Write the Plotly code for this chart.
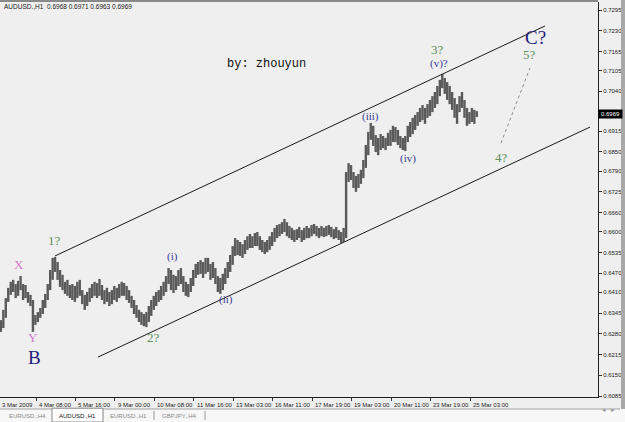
import plotly.graph_objects as go

# ---------------- data (AUDUSD, 2-hour aggregated bars) ----------------
highs = [
    0.6323, 0.6355, 0.6392, 0.6424, 0.6443, 0.6449, 0.6436, 0.6446, 0.6461, 0.6436,
    0.6433, 0.6411, 0.6402, 0.6386, 0.6339, 0.6348, 0.6361, 0.6386, 0.6405, 0.6436,
    0.6480, 0.6518, 0.6521, 0.6505, 0.6480, 0.6465, 0.6443, 0.6449, 0.6433, 0.6436,
    0.6430, 0.6443, 0.6449, 0.6417, 0.6402, 0.6411, 0.6424, 0.6436, 0.6443, 0.6439,
    0.6452, 0.6433, 0.6417, 0.6424, 0.6411, 0.6417, 0.6430, 0.6424, 0.6436, 0.6443,
    0.6439, 0.6430, 0.6417, 0.6399, 0.6386, 0.6370, 0.6355, 0.6348, 0.6342, 0.6348,
    0.6367, 0.6386, 0.6399, 0.6411, 0.6417, 0.6430, 0.6443, 0.6461, 0.6486, 0.6480,
    0.6465, 0.6461, 0.6480, 0.6486, 0.6461, 0.6443, 0.6436, 0.6455, 0.6480, 0.6499,
    0.6505, 0.6511, 0.6505, 0.6518, 0.6518, 0.6499, 0.6505, 0.6486, 0.6461, 0.6455,
    0.6468, 0.6486, 0.6505, 0.6527, 0.6555, 0.6580, 0.6574, 0.6568, 0.6561, 0.6574,
    0.6586, 0.6593, 0.6586, 0.6596, 0.6599, 0.6586, 0.6574, 0.6568, 0.6574, 0.6586,
    0.6599, 0.6612, 0.6621, 0.6624, 0.6630, 0.6640, 0.6630, 0.6618, 0.6612, 0.6605,
    0.6608, 0.6615, 0.6605, 0.6612, 0.6618, 0.6612, 0.6621, 0.6624, 0.6618, 0.6612,
    0.6618, 0.6612, 0.6618, 0.6621, 0.6615, 0.6608, 0.6615, 0.6605, 0.6599, 0.6612,
    0.6787, 0.6815, 0.6809, 0.6787, 0.6775, 0.6781, 0.6794, 0.6825, 0.6872, 0.6913,
    0.6941, 0.6932, 0.6903, 0.6894, 0.6906, 0.6900, 0.6894, 0.6910, 0.6919, 0.6932,
    0.6928, 0.6919, 0.6900, 0.6894, 0.6900, 0.6932, 0.6944, 0.6957, 0.6966, 0.6975,
    0.6988, 0.6997, 0.6988, 0.7000, 0.7013, 0.7025, 0.7038, 0.7057, 0.7076, 0.7094,
    0.7082, 0.7069, 0.7057, 0.7038, 0.7019, 0.7000, 0.7025, 0.7038, 0.7013, 0.6988,
    0.6975, 0.6988, 0.6982, 0.6978,
]
lows = [
    0.6286, 0.6298, 0.6330, 0.6380, 0.6402, 0.6411, 0.6392, 0.6399, 0.6417, 0.6386,
    0.6392, 0.6377, 0.6367, 0.6286, 0.6308, 0.6317, 0.6330, 0.6342, 0.6361, 0.6386,
    0.6417, 0.6449, 0.6474, 0.6449, 0.6427, 0.6417, 0.6405, 0.6399, 0.6392, 0.6386,
    0.6380, 0.6392, 0.6399, 0.6373, 0.6355, 0.6367, 0.6380, 0.6392, 0.6399, 0.6392,
    0.6399, 0.6386, 0.6373, 0.6380, 0.6367, 0.6373, 0.6386, 0.6380, 0.6392, 0.6399,
    0.6399, 0.6386, 0.6377, 0.6361, 0.6342, 0.6330, 0.6317, 0.6308, 0.6304, 0.6301,
    0.6317, 0.6336, 0.6355, 0.6367, 0.6380, 0.6386, 0.6399, 0.6411, 0.6436, 0.6417,
    0.6408, 0.6417, 0.6430, 0.6436, 0.6411, 0.6399, 0.6395, 0.6411, 0.6430, 0.6455,
    0.6465, 0.6468, 0.6455, 0.6468, 0.6474, 0.6449, 0.6455, 0.6436, 0.6411, 0.6405,
    0.6417, 0.6436, 0.6455, 0.6474, 0.6496, 0.6524, 0.6527, 0.6524, 0.6518, 0.6530,
    0.6543, 0.6549, 0.6549, 0.6555, 0.6555, 0.6543, 0.6536, 0.6530, 0.6536, 0.6543,
    0.6555, 0.6568, 0.6580, 0.6586, 0.6593, 0.6599, 0.6586, 0.6580, 0.6574, 0.6568,
    0.6574, 0.6580, 0.6568, 0.6574, 0.6580, 0.6580, 0.6586, 0.6593, 0.6586, 0.6580,
    0.6586, 0.6583, 0.6586, 0.6590, 0.6583, 0.6577, 0.6580, 0.6574, 0.6565, 0.6568,
    0.6580, 0.6756, 0.6762, 0.6737, 0.6725, 0.6737, 0.6750, 0.6768, 0.6800, 0.6840,
    0.6888, 0.6869, 0.6850, 0.6840, 0.6856, 0.6862, 0.6856, 0.6869, 0.6869, 0.6881,
    0.6881, 0.6872, 0.6862, 0.6856, 0.6853, 0.6881, 0.6897, 0.6906, 0.6919, 0.6932,
    0.6944, 0.6950, 0.6938, 0.6957, 0.6963, 0.6975, 0.6988, 0.7000, 0.7025, 0.7050,
    0.7032, 0.7013, 0.7000, 0.6982, 0.6957, 0.6938, 0.6975, 0.6988, 0.6957, 0.6932,
    0.6938, 0.6944, 0.6938, 0.6960,
]
first_hour = 3          # first visible bar starts at 3 Mar 03:00 (hour index from 3 Mar 00:00)
bar_hours = 2           # each drawn bar aggregates 2 H1 bars

date_labels = ["4 Mar 08:00", "5 Mar 16:00", "9 Mar 00:00", "10 Mar 08:00", "11 Mar 16:00",
               "13 Mar 03:00", "16 Mar 11:00", "17 Mar 19:00", "19 Mar 03:00", "20 Mar 11:00",
               "23 Mar 19:00", "25 Mar 03:00"]
date_label_hours = [32, 64, 96, 128, 160, 192, 224, 256, 288, 320, 352, 384]
first_date_label = "3 Mar 2009"

price_ticks = [0.7295, 0.7230, 0.7165, 0.7105, 0.7040, 0.6915, 0.6850, 0.6790,
               0.6725, 0.6660, 0.6600, 0.6535, 0.6470, 0.6410, 0.6345, 0.6280, 0.6215,
               0.6150, 0.6085]
last_price = 0.6969
header = "AUDUSD.,H1  0.6968 0.6971 0.6963 0.6969"

# channel / trend lines (hour index, price)
upper_channel = ([47.4, 444.8], [0.6524, 0.7245])
lower_channel = ([82.3, 481.3], [0.6207, 0.6928])
projection = ([409.1, 432.6], [0.6878, 0.7113])

# wave labels: text, hour index, price, style
wave_labels = [
    ("X", 18.2, 0.6496, "pink"), ("Y", 29.6, 0.6267, "pink"), ("B", 30.4, 0.6207, "big"),
    ("1?", 47.4, 0.6574, "green"), ("2?", 126.9, 0.6267, "green"),
    ("(i)", 142.3, 0.6521, "navy"), ("(ii)", 186.1, 0.6386, "navy"),
    ("(iii)", 302.9, 0.6960, "navy"), ("(iv)", 333.7, 0.6831, "navy"),
    ("(v)?", 358.8, 0.7126, "navy"), ("3?", 358.0, 0.7170, "green"),
    ("4?", 409.9, 0.6834, "green"), ("5?", 432.6, 0.7157, "green"), ("C?", 437.5, 0.7210, "big"),
]
signature = ("by: zhouyun", 219.3, 0.7126)

# ---------------- figure ----------------
PLOT_W = 598.0
PLOT_H = 395.0
BG = "#efefef"

bx, by = [], []
for j, (h, l) in enumerate(zip(highs, lows)):
    xc = first_hour + bar_hours * j + 0.5
    bx += [xc, xc, None]
    by += [l, h, None]

fig = go.Figure()
fig.add_trace(go.Scatter(x=bx, y=by, mode="lines", line=dict(color="#5a5a5a", width=2.4),
                         hoverinfo="skip"))
for (lx, ly), dash, col in [(upper_channel, "solid", "#1a1a1a"), (lower_channel, "solid", "#1a1a1a"),
                            (projection, "dot", "#8a8a8a")]:
    fig.add_trace(go.Scatter(x=lx, y=ly, mode="lines", line=dict(color=col, width=1, dash=dash),
                             hoverinfo="skip"))

styles = {
    "pink": dict(color="#d27cc6", size=13),
    "green": dict(color="#5c905c", size=13),
    "navy": dict(color="#3a3a96", size=11),
    "big": dict(color="#1e1e7c", size=19),
}
ann = []
for text, hx, py, st in wave_labels:
    s = styles[st]
    ann.append(dict(x=hx, y=py, xref="x", yref="y", text=text, showarrow=False,
                    font=dict(family="Liberation Serif", size=s["size"], color=s["color"])))
ann.append(dict(x=signature[1], y=signature[2], xref="x", yref="y", text=signature[0],
                showarrow=False, font=dict(family="Liberation Mono", size=12, color="#111")))

# header
ann.append(dict(x=2 / PLOT_W, y=1 - 4 / PLOT_H, xref="paper", yref="paper", text=header,
                showarrow=False, xanchor="left", yanchor="middle",
                font=dict(family="Liberation Sans", size=6.5, color="#222")))

# date labels (left-aligned after tick, MT4 style)
ann.append(dict(x=0, y=-8 / PLOT_H, xref="paper", yref="paper", text=first_date_label,
                showarrow=False, xanchor="left", yanchor="middle",
                font=dict(family="Liberation Sans", size=6, color="#222")))
for t, hx in zip(date_labels, date_label_hours):
    ann.append(dict(x=hx + 0.6, y=-8 / PLOT_H, xref="x", yref="paper", text=t,
                    showarrow=False, xanchor="left", yanchor="middle",
                    font=dict(family="Liberation Sans", size=6, color="#222")))

# last price box
ann.append(dict(x=1, y=last_price, xref="paper", yref="y", text=f"{last_price:.4f}",
                showarrow=False, xanchor="left", yanchor="middle", bgcolor="#000000",
                width=23, height=8, borderpad=0,
                font=dict(family="Liberation Sans", size=6, color="#ffffff")))

# tab bar
tabs = ["EURUSD.,H4", "AUDUSD.,H1", "EURUSD.,H1", "GBPJPY.,H4"]
tab_edges = [2, 52, 103, 154, 205]
ty0 = -(409 - 397) / PLOT_H
ty1 = -(422 - 397) / PLOT_H
shapes = [
    dict(type="rect", xref="paper", yref="paper", x0=-0.01, x1=625 / PLOT_W, y0=ty1 - 0.01, y1=ty0,
         fillcolor="#f7f7f7", line=dict(width=0), layer="below"),
    dict(type="line", xref="paper", yref="paper", x0=0, x1=620 / PLOT_W, y0=ty0, y1=ty0,
         line=dict(color="#a0a0a0", width=1)),
    dict(type="rect", xref="paper", yref="paper", x0=tab_edges[1] / PLOT_W, x1=tab_edges[2] / PLOT_W,
         y0=ty1, y1=ty0 + 0.002, fillcolor="#ffffff", line=dict(color="#888", width=1)),
    dict(type="line", xref="paper", yref="paper", x0=0, x1=PLOT_W / PLOT_W, y0=1 + 1 / PLOT_H,
         y1=1 + 1 / PLOT_H, line=dict(color="#222", width=1)),
    dict(type="rect", xref="paper", yref="paper", x0=621 / PLOT_W, x1=626 / PLOT_W, y0=ty0,
         y1=1 + 3 / PLOT_H, fillcolor="#a8a8a8", line=dict(width=0)),
]
for e in tab_edges[3:]:
    shapes.append(dict(type="line", xref="paper", yref="paper", x0=e / PLOT_W, x1=e / PLOT_W,
                       y0=ty1 + 0.005, y1=ty0 - 0.005, line=dict(color="#999", width=1)))
for i, t in enumerate(tabs):
    xc = (tab_edges[i] + tab_edges[i + 1]) / 2 / PLOT_W
    ann.append(dict(x=xc, y=(ty0 + ty1) / 2, xref="paper", yref="paper", text=t, showarrow=False,
                    xanchor="center", yanchor="middle",
                    font=dict(family="Liberation Sans", size=6,
                              color="#111" if i == 1 else "#888")))
for sx, sym in [(608, "◂"), (617, "▸")]:
    ann.append(dict(x=sx / PLOT_W, y=(ty0 + ty1) / 2, xref="paper", yref="paper", text=sym,
                    showarrow=False, font=dict(size=7, color="#999")))

fig.update_layout(
    width=625, height=422, margin=dict(l=0, r=27, t=2, b=25),
    paper_bgcolor=BG, plot_bgcolor=BG, showlegend=False,
    annotations=ann, shapes=shapes,
)
fig.update_xaxes(range=[2.80, 487.8], tickvals=date_label_hours, showticklabels=False,
                 ticks="outside", ticklen=3, tickcolor="#333", showgrid=False, zeroline=False,
                 showline=True, linecolor="#222", linewidth=1, automargin=False, fixedrange=True)
fig.update_yaxes(range=[0.60819, 0.73201], side="right", tickvals=price_ticks,
                 ticktext=[f"{p:.4f}" for p in price_ticks], ticks="outside", ticklen=3,
                 tickcolor="#333", tickfont=dict(family="Liberation Sans", size=6, color="#222"),
                 showgrid=False, zeroline=False, showline=True, linecolor="#222", linewidth=1,
                 automargin=False, fixedrange=True)

fig.write_html("out.html")
